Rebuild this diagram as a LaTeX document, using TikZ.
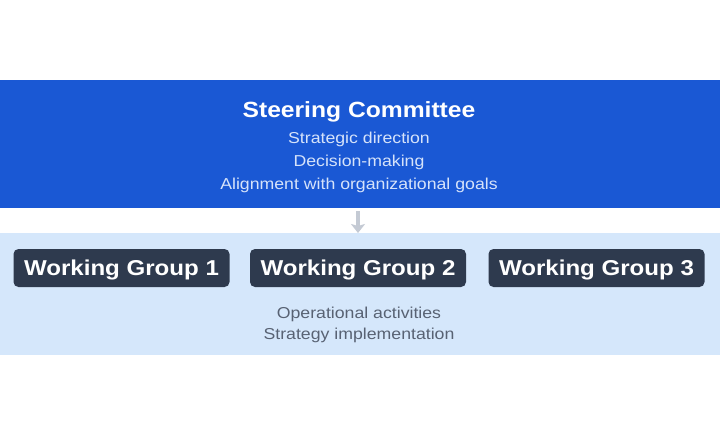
\documentclass[tikz,border=0pt]{standalone}
\usepackage{fontspec}
\setmainfont{Liberation Sans}[FakeStretch=1.12]
\usetikzlibrary{arrows.meta}
\definecolor{bandblue}{HTML}{1A58D4}
\definecolor{bandlight}{HTML}{D5E7FB}
\definecolor{boxdark}{HTML}{2E3A4E}
\definecolor{subwhite}{HTML}{D6E3FA}
\definecolor{graytext}{HTML}{586273}
\definecolor{arrowgray}{HTML}{C4CAD4}
\tikzset{
  wgbox/.style={fill=boxdark, text=white, rounded corners=5pt, minimum width=216pt, minimum height=38pt, inner sep=0pt, text height=15.5pt, text depth=0pt, font=\fontsize{21.5}{25}\selectfont\bfseries},
  titletext/.style={text=white, font=\fontsize{22}{26}\selectfont\bfseries, inner sep=0pt, anchor=base},
  subline/.style={text=subwhite, font=\fontsize{15.8}{19}\selectfont, inner sep=0pt, anchor=base},
  botline/.style={text=graytext, font=\fontsize{15.8}{19}\selectfont, inner sep=0pt, anchor=base},
}
\begin{document}
\begin{tikzpicture}[x=1pt,y=-1pt]
\useasboundingbox (0,0) rectangle (720,436);
\fill[white] (0,0) rectangle (720,436);
\fill[bandblue] (0,80) rectangle (720,208);
\fill[bandlight] (0,233) rectangle (720,355);
\node[titletext] (title) at (359,117) {Steering Committee};
\node[subline] (s1) at (359,143) {Strategic direction};
\node[subline] (s2) at (359,166) {Decision-making};
\node[subline] (s3) at (359,189) {Alignment with organizational goals};
\coordinate (top) at (358,211);
\coordinate (bot) at (358,233);
\draw[arrowgray, line width=4pt, -{Stealth[length=9pt,width=14pt,inset=2pt]}] (top) -- (bot);
\node[wgbox] (wg1) at (121.5,268) {Working Group 1};
\node[wgbox] (wg2) at (358,268) {Working Group 2};
\node[wgbox] (wg3) at (596.5,268) {Working Group 3};
\node[botline] (b1) at (359,318) {Operational activities};
\node[botline] (b2) at (359,339) {Strategy implementation};
\end{tikzpicture}
\end{document}
